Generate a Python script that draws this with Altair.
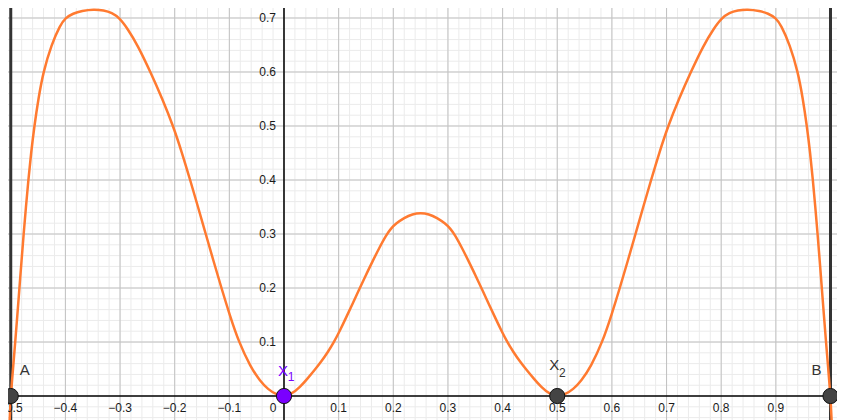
import altair as alt
import numpy as np
import pandas as pd

# ---- data ----
curve_x = [-0.502, -0.5, -0.4959, -0.4918, -0.4879, -0.4841, -0.4803, -0.4764, -0.4722, -0.4678,
           -0.4628, -0.4568, -0.4495, -0.4405, -0.4255, -0.4095, -0.400, -0.386, -0.37, -0.348,
           -0.33, -0.315, -0.301, -0.286, -0.268, -0.2443, -0.2225, -0.2028, -0.1865, -0.1717,
           -0.1573, -0.1432, -0.129, -0.1145, -0.0993, -0.0827, -0.0613, -0.044, -0.029, -0.0145,
           0.0,
           0.0145, 0.029, 0.0436, 0.056, 0.068, 0.080, 0.091, 0.1025, 0.114, 0.1255,
           0.137, 0.149, 0.162, 0.174, 0.187, 0.196, 0.205, 0.22, 0.235, 0.25,
           0.265, 0.28, 0.295, 0.304, 0.313, 0.326, 0.338, 0.351, 0.363, 0.3745,
           0.386, 0.3975, 0.409, 0.420, 0.432, 0.444, 0.4564, 0.471, 0.4855, 0.5,
           0.5145, 0.529, 0.544, 0.5613, 0.5827, 0.5993, 0.6145, 0.629, 0.6432, 0.6573,
           0.6717, 0.6865, 0.7028, 0.7225, 0.7443, 0.768, 0.786, 0.801, 0.815, 0.83,
           0.848, 0.87, 0.886, 0.900, 0.9095, 0.9255, 0.9405, 0.9495, 0.9568, 0.9628,
           0.9678, 0.9722, 0.9764, 0.9803, 0.9841, 0.9879, 0.9918, 0.9959, 1.0, 1.002]
curve_y = [-0.045, 0.0, 0.05, 0.10, 0.15, 0.20, 0.25, 0.30, 0.35, 0.40,
           0.45, 0.50, 0.55, 0.60, 0.651, 0.687, 0.70, 0.7085, 0.7133, 0.716,
           0.7142, 0.7098, 0.70, 0.68, 0.65, 0.60, 0.55, 0.50, 0.45, 0.40,
           0.35, 0.30, 0.25, 0.20, 0.15, 0.10, 0.054, 0.028, 0.012, 0.003,
           0.0,
           0.004, 0.016, 0.033, 0.048, 0.0635, 0.081, 0.099, 0.1215, 0.146, 0.171,
           0.196, 0.222, 0.2495, 0.2735, 0.298, 0.3105, 0.3195, 0.330, 0.337, 0.339,
           0.337, 0.330, 0.3195, 0.3105, 0.298, 0.2735, 0.2495, 0.222, 0.196, 0.171,
           0.146, 0.1215, 0.099, 0.081, 0.0635, 0.048, 0.033, 0.016, 0.004, 0.0,
           0.003, 0.012, 0.028, 0.054, 0.10, 0.15, 0.20, 0.25, 0.30, 0.35,
           0.40, 0.45, 0.50, 0.55, 0.60, 0.65, 0.68, 0.70, 0.7098, 0.7142,
           0.716, 0.7133, 0.7085, 0.70, 0.687, 0.651, 0.60, 0.55, 0.50, 0.45,
           0.40, 0.35, 0.30, 0.25, 0.20, 0.15, 0.10, 0.05, 0.0, -0.045]

point_x = [-0.5, 0.0, 0.5, 1.0]
point_y = [0.0, 0.0, 0.0, 0.0]
point_fill = ["#444444", "#7a00ff", "#444444", "#444444"]

bound_x = [-0.5, 1.0]

x_tick_vals = [-0.5, -0.4, -0.3, -0.2, -0.1, 0.1, 0.2, 0.3, 0.4, 0.5, 0.6, 0.7, 0.8, 0.9]
x_tick_text = ["−0.5", "−0.4", "−0.3", "−0.2", "−0.1", "0.1", "0.2", "0.3", "0.4",
               "0.5", "0.6", "0.7", "0.8", "0.9"]
y_tick_vals = [0.1, 0.2, 0.3, 0.4, 0.5, 0.6, 0.7]
y_tick_text = ["0.1", "0.2", "0.3", "0.4", "0.5", "0.6", "0.7"]

# ---- scales ----
X0, X1_ = -0.50503, 1.0119
Y0, Y1_ = -0.0444, 0.7185
xs = alt.Scale(domain=[X0, X1_], nice=False, zero=False)
ys = alt.Scale(domain=[Y0, Y1_], nice=False, zero=False)

major_x = np.round(np.arange(-0.5, 1.01, 0.1), 2)
major_y = np.round(np.arange(0.1, 0.71, 0.1), 2)
minor_x = np.round(np.arange(-0.52, 1.03, 0.02), 2)
minor_y = np.round(np.arange(-0.04, 0.72, 0.02), 2)

FONT = "Liberation Sans"


def vrules(vals, color, width):
    return alt.Chart(pd.DataFrame({"x": vals})).mark_rule(color=color, strokeWidth=width).encode(
        x=alt.X("x:Q", scale=xs, axis=None))


def hrules(vals, color, width):
    return alt.Chart(pd.DataFrame({"y": vals})).mark_rule(color=color, strokeWidth=width).encode(
        y=alt.Y("y:Q", scale=ys, axis=None))


layers = [
    vrules(minor_x, "#ebebeb", 1),
    hrules(minor_y, "#ebebeb", 1),
    vrules(major_x, "#c2c2c2", 1),
    hrules(major_y, "#c2c2c2", 1),
    vrules([0.0], "#000000", 1.5),
    hrules([0.0], "#000000", 1.5),
    vrules(bound_x, "#333333", 3),
]

curve_df = pd.DataFrame({"x": curve_x, "y": curve_y, "i": range(len(curve_x))})
layers.append(
    alt.Chart(curve_df).mark_line(color="#ff7a30", strokeWidth=2.5, interpolate="basis", clip=True).encode(
        x=alt.X("x:Q", scale=xs, axis=None),
        y=alt.Y("y:Q", scale=ys, axis=None),
        order="i:Q",
    )
)

xt = pd.DataFrame({"x": x_tick_vals, "y": [0.0] * len(x_tick_vals), "t": x_tick_text})
layers.append(
    alt.Chart(xt).mark_text(dy=12, align="center", baseline="middle", fontSize=12, font=FONT, color="#1a1a1a").encode(
        x=alt.X("x:Q", scale=xs, axis=None), y=alt.Y("y:Q", scale=ys, axis=None), text="t:N")
)
zt = pd.DataFrame({"x": [0.0], "y": [0.0], "t": ["0"]})
layers.append(
    alt.Chart(zt).mark_text(dx=-11, dy=12, align="center", baseline="middle", fontSize=12, font=FONT, color="#1a1a1a").encode(
        x=alt.X("x:Q", scale=xs, axis=None), y=alt.Y("y:Q", scale=ys, axis=None), text="t:N")
)
yt = pd.DataFrame({"x": [0.0] * len(y_tick_vals), "y": y_tick_vals, "t": y_tick_text})
layers.append(
    alt.Chart(yt).mark_text(dx=-8, align="right", baseline="middle", fontSize=12, font=FONT, color="#1a1a1a").encode(
        x=alt.X("x:Q", scale=xs, axis=None), y=alt.Y("y:Q", scale=ys, axis=None), text="t:N")
)


def label(xv, text, dx, dy, size, color):
    df = pd.DataFrame({"x": [xv], "y": [0.0], "t": [text]})
    return alt.Chart(df).mark_text(dx=dx, dy=dy, align="center", baseline="middle", fontSize=size,
                                   font=FONT, color=color).encode(
        x=alt.X("x:Q", scale=xs, axis=None), y=alt.Y("y:Q", scale=ys, axis=None), text="t:N")


layers += [
    label(-0.5, "A", 14, -26, 15, "#333333"),
    label(0.0, "X", -1, -25, 15, "#7a00ff"),
    label(0.0, "1", 7, -19, 12, "#7a00ff"),
    label(0.5, "X", -3, -31, 15, "#333333"),
    label(0.5, "2", 5, -23, 12, "#333333"),
    label(1.0, "B", -14, -26, 15, "#333333"),
]

pts = pd.DataFrame({"x": point_x, "y": point_y, "c": point_fill})
layers.append(
    alt.Chart(pts).mark_circle(size=230, opacity=1, stroke="#111111", strokeWidth=1).encode(
        x=alt.X("x:Q", scale=xs, axis=None),
        y=alt.Y("y:Q", scale=ys, axis=None),
        color=alt.Color("c:N", scale=None),
    )
)

chart = alt.layer(*layers).properties(
    width=829, height=412, padding=0, autosize=alt.AutoSizeParams(type="none"), background="white"
).configure_view(strokeWidth=0)

chart.save("out.html", embed_options={"renderer": "svg", "actions": False})
